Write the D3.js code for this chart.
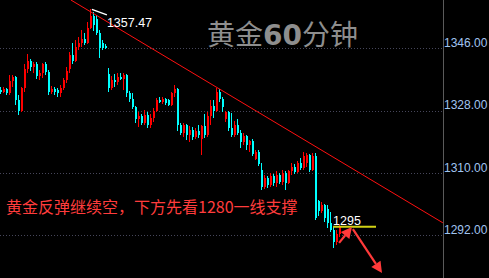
<!DOCTYPE html>
<html><head><meta charset="utf-8">
<script src="https://cdn.jsdelivr.net/npm/d3@7"></script>
<style>html,body{margin:0;padding:0;background:#000;overflow:hidden}</style>
</head><body><svg id="c" width="489" height="278"></svg>
<script>
// ---- data ----
const opens = [1334.0,1333.4,1334.2,1333.2,1336.5,1337.8,1331.0,1328.0,1334.5,1340.0,1342.5,1340.5,1341.6,1338.0,1339.0,1341.5,1339.2,1333.5,1334.3,1334.0,1333.2,1334.5,1337.0,1340.0,1344.0,1342.5,1346.5,1347.5,1348.8,1347.6,1352.0,1355.5,1354.5,1350.5,1347.5,1346.8,1338.5,1334.5,1337.0,1336.3,1337.8,1337.2,1338.3,1333.0,1331.5,1329.0,1325.5,1326.5,1324.5,1326.8,1324.0,1326.0,1328.0,1331.0,1330.5,1331.5,1331.2,1329.8,1333.0,1334.3,1324.0,1321.5,1323.8,1321.0,1322.5,1320.5,1322.0,1319.8,1323.5,1321.0,1326.5,1329.5,1328.0,1333.5,1331.5,1325.5,1327.6,1323.0,1321.0,1324.0,1321.5,1319.0,1320.8,1318.0,1319.3,1314.0,1316.2,1311.0,1306.0,1308.5,1306.5,1309.0,1307.0,1309.5,1307.5,1310.0,1307.0,1310.5,1311.8,1310.2,1312.8,1311.5,1313.0,1315.2,1311.0,1314.8,1301.8,1299.0,1300.8,1299.5,1295.5,1293.5,1290.0,1292.5];
const highs = [1334.8,1335.0,1334.6,1338.3,1338.3,1338.0,1332.5,1335.0,1341.5,1344.4,1343.0,1342.2,1342.0,1339.8,1341.8,1342.0,1339.8,1335.2,1334.8,1334.6,1335.4,1337.5,1340.5,1345.0,1347.5,1348.4,1349.3,1351.3,1350.5,1353.5,1357.47,1356.5,1355.7,1351.3,1348.4,1347.2,1340.3,1338.0,1338.5,1338.9,1338.9,1338.9,1338.6,1333.6,1333.1,1329.5,1327.5,1327.0,1328.2,1327.5,1327.0,1328.8,1331.7,1332.0,1332.0,1331.8,1331.5,1333.5,1335.4,1334.6,1324.5,1324.5,1324.2,1323.5,1323.3,1323.0,1323.9,1324.0,1327.0,1327.6,1331.1,1331.0,1334.6,1334.3,1332.0,1328.0,1328.0,1327.3,1325.0,1325.5,1322.4,1321.5,1321.0,1319.5,1319.8,1316.6,1316.6,1313.0,1309.5,1309.0,1310.0,1309.6,1310.5,1310.0,1310.9,1310.5,1311.0,1312.9,1312.5,1313.5,1314.3,1316.1,1315.8,1315.6,1315.8,1315.8,1302.2,1301.6,1301.0,1300.8,1298.7,1294.3,1293.5,1295.0];
const lows = [1332.9,1333.0,1332.6,1332.5,1335.0,1329.7,1326.8,1327.5,1333.5,1339.0,1339.5,1339.0,1337.2,1336.9,1337.5,1338.2,1332.5,1332.8,1332.5,1332.0,1332.0,1334.0,1336.0,1339.0,1341.5,1342.0,1345.6,1346.5,1347.0,1347.2,1351.5,1351.0,1349.9,1343.2,1345.6,1345.8,1333.4,1334.0,1335.0,1335.5,1336.9,1334.0,1332.0,1330.5,1328.5,1324.5,1323.3,1323.8,1324.0,1323.0,1323.0,1324.7,1327.6,1330.2,1330.0,1329.8,1329.5,1329.5,1332.0,1322.0,1321.0,1320.5,1319.5,1319.0,1319.5,1319.8,1320.0,1315.2,1320.1,1320.5,1324.0,1326.0,1327.5,1330.5,1327.6,1324.7,1322.0,1320.4,1320.5,1321.0,1317.2,1318.0,1316.6,1316.0,1315.0,1313.8,1312.0,1305.1,1305.5,1305.8,1306.0,1306.2,1306.0,1306.8,1306.5,1305.1,1306.8,1309.4,1309.8,1310.0,1310.9,1311.0,1311.7,1310.3,1310.5,1296.4,1297.5,1298.4,1295.8,1294.1,1293.0,1288.3,1289.2,1291.5];
const closes = [1333.4,1334.2,1333.2,1336.5,1337.8,1331.0,1328.0,1334.5,1340.0,1342.5,1340.5,1341.6,1338.0,1339.0,1341.5,1339.2,1333.5,1334.3,1333.3,1333.2,1334.5,1337.0,1339.5,1344.0,1342.5,1346.5,1347.5,1348.8,1347.6,1352.0,1355.5,1352.8,1350.5,1346.0,1346.2,1346.2,1334.5,1337.0,1336.3,1337.8,1337.2,1338.3,1333.0,1331.5,1329.0,1325.5,1326.5,1324.5,1326.8,1324.0,1326.0,1328.0,1331.0,1330.5,1331.5,1330.3,1329.8,1333.0,1334.3,1324.0,1321.5,1323.8,1321.0,1322.5,1320.5,1322.0,1321.0,1323.5,1321.0,1326.5,1329.5,1328.0,1333.5,1331.5,1329.0,1327.6,1323.0,1321.0,1324.0,1321.5,1319.0,1320.8,1318.0,1319.3,1315.5,1316.2,1312.5,1306.0,1308.5,1306.5,1309.0,1307.0,1309.5,1307.5,1310.0,1307.0,1310.5,1311.8,1310.2,1312.8,1311.5,1315.0,1315.2,1311.0,1314.8,1297.0,1299.0,1300.8,1297.0,1295.5,1293.5,1290.0,1292.5,1294.8];
const priceTicks = [1346, 1328, 1310, 1292];
const trendLine = [{i: 23.3, p: 1360.0}, {i: 147.3, p: 1295.6}];
const peakLeader = [{i: 30.3, p: 1357.3}, {i: 35.3, p: 1355.7}];
const peakLabel = {i: 35.3, p: 1352.2, text: "1357.47"};
const levelLabel = {i: 110.7, p: 1295.0, text: "1295"};
const levelLine = [{i: 110.7, p: 1294.5}, {i: 125.0, p: 1294.5}];
const arrows = [
  [{i: 112.7, p: 1289.8}, {i: 117.0, p: 1294.4}],
  [{i: 117.3, p: 1293.8}, {i: 127.0, p: 1281.1}]
];
const titleParts = ["黄金", "60", "分钟"];
const noteText = "黄金反弹继续空，下方先看1280一线支撑";

// ---- drawing ----
const svg = d3.select("#c");
const W = 489, H = 278, axisX = 443;
svg.append("rect").attr("width", W).attr("height", H).attr("fill", "#000");

const x = d3.scaleLinear().domain([0, 147]).range([1, 442]);
const y = d3.scaleLinear().domain([1360, 1292]).range([0, 235.3]);

// grid
svg.append("g").selectAll("line").data(priceTicks).join("line")
  .attr("x1", 0).attr("x2", axisX)
  .attr("y1", d => Math.round(y(d)) + 0.5).attr("y2", d => Math.round(y(d)) + 0.5)
  .attr("stroke", "#46465a").attr("stroke-dasharray", "1,2");

// right axis
const axis = d3.axisRight(y).tickValues(priceTicks).tickSize(0).tickFormat(d3.format(".2f"));
const ag = svg.append("g").attr("transform", `translate(${axisX},0)`).call(axis);
ag.select(".domain").remove();
ag.selectAll("text").attr("x", 1).attr("dy", "-0.15em")
  .attr("fill", "#a0c4f0").attr("font-family", "Liberation Sans, Arial, sans-serif")
  .attr("font-size", 12).attr("text-anchor", "start");
svg.append("line").attr("x1", axisX + 0.5).attr("x2", axisX + 0.5).attr("y1", 0).attr("y2", H)
  .attr("stroke", "#5a5a5a");

// candles
const idx = d3.range(opens.length);
const up = i => closes[i] >= opens[i];
const col = i => up(i) ? "#ff0000" : "#00ffff";
const cg = svg.append("g").attr("shape-rendering", "crispEdges");
cg.selectAll("line").data(idx).join("line")
  .attr("x1", i => x(i) - 0.5).attr("x2", i => x(i) - 0.5)
  .attr("y1", i => y(highs[i])).attr("y2", i => y(lows[i]))
  .attr("stroke", col);
cg.selectAll("rect").data(idx).join("rect")
  .attr("x", i => x(i) - 1).attr("width", 2)
  .attr("y", i => y(Math.max(opens[i], closes[i])))
  .attr("height", i => Math.max(1, Math.abs(y(opens[i]) - y(closes[i]))))
  .attr("fill", col);

// trend line
const ln = d3.line().x(d => x(d.i)).y(d => y(d.p));
svg.append("path").attr("d", ln(trendLine)).attr("stroke", "#ff1010").attr("fill", "none").attr("stroke-width", 1);

// peak annotation
svg.append("path").attr("d", ln(peakLeader)).attr("stroke", "#ffffff").attr("fill", "none").attr("stroke-width", 1.5);
svg.append("text").attr("x", x(peakLabel.i)).attr("y", y(peakLabel.p)).text(peakLabel.text)
  .attr("fill", "#fff").attr("font-family", "Liberation Sans, Arial, sans-serif").attr("font-size", 12.5);

// level
svg.append("path").attr("d", ln(levelLine)).attr("stroke", "#d2d214").attr("stroke-width", 2).attr("fill", "none");
svg.append("text").attr("x", x(levelLabel.i)).attr("y", y(levelLabel.p)).text(levelLabel.text)
  .attr("fill", "#fff").attr("font-family", "Liberation Sans, Arial, sans-serif").attr("font-size", 12.5);

// arrows
arrows.forEach(a => {
  const x1 = x(a[0].i), y1 = y(a[0].p), x2 = x(a[1].i), y2 = y(a[1].p);
  const ang = Math.atan2(y2 - y1, x2 - x1), L = 11, hw = 5.5;
  const bx = x2 - L * Math.cos(ang), by = y2 - L * Math.sin(ang);
  svg.append("line").attr("x1", x1).attr("y1", y1).attr("x2", bx).attr("y2", by)
    .attr("stroke", "#ff3a3a").attr("stroke-width", 2.2);
  svg.append("path").attr("d", `M${x2},${y2}L${bx + hw * Math.sin(ang)},${by - hw * Math.cos(ang)}L${bx - hw * Math.sin(ang)},${by + hw * Math.cos(ang)}Z`)
    .attr("fill", "#ff3a3a");
});

// title
const t = svg.append("text").attr("x", 207).attr("y", 45).attr("font-size", 28).attr("fill", "#8e8e8e")
  .attr("font-family", "Noto Sans CJK SC, sans-serif");
t.selectAll("tspan").data(titleParts).join("tspan").text(d => d)
  .attr("font-family", (d, k) => k === 1 ? "DejaVu Sans, sans-serif" : "Noto Sans CJK SC, sans-serif")
  .attr("font-weight", (d, k) => k === 1 ? "bold" : "normal");

// note
svg.append("text").attr("x", 6).attr("y", 213).text(noteText)
  .attr("fill", "#ff3c3c").attr("font-size", 16).attr("font-family", "Noto Sans CJK SC, sans-serif");
</script></body></html>
